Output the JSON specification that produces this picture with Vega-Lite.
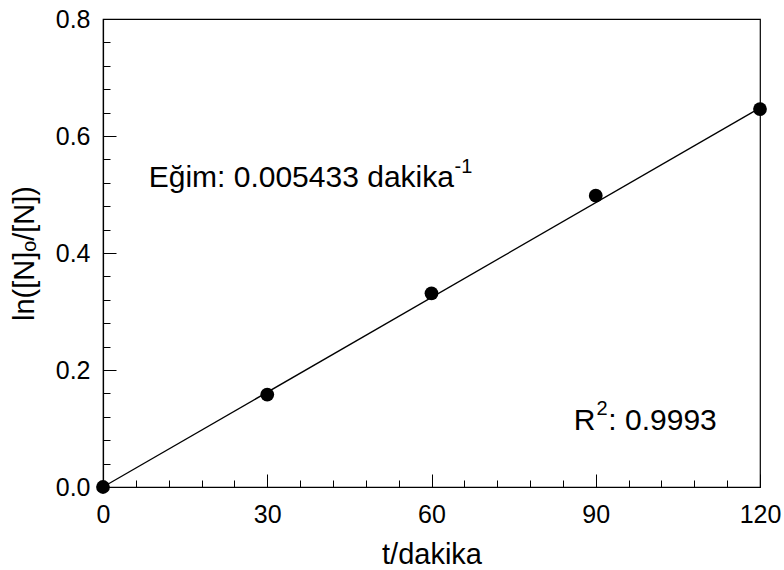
{
  "$schema": "https://vega.github.io/schema/vega-lite/v6.json",
  "width": 657,
  "height": 468,
  "autosize": {"type": "none"},
  "padding": {"left": 103, "top": 19, "right": 24, "bottom": 83},
  "background": "white",
  "config": {
    "font": "Liberation Sans",
    "view": {"stroke": "black", "strokeWidth": 1.2},
    "axis": {
      "grid": false,
      "domainColor": "black",
      "domainWidth": 1.2,
      "tickColor": "black",
      "tickWidth": 1,
      "labelColor": "black",
      "titleColor": "black",
      "labelFont": "Liberation Sans",
      "titleFont": "Liberation Sans",
      "labelFontSize": 25,
      "titleFontSize": 29,
      "titleFontWeight": "normal",
      "labelOverlap": false,
      "labelFlush": false,
      "labelBound": false
    }
  },
  "encoding": {
    "x": {
      "field": "t",
      "type": "quantitative",
      "scale": {"domain": [0, 120], "nice": false, "zero": true},
      "axis": {
        "title": "t/dakika",
        "values": [0, 6, 12, 18, 24, 30, 36, 42, 48, 54, 60, 66, 72, 78, 84, 90, 96, 102, 108, 114, 120],
        "labelExpr": "datum.value % 30 === 0 ? datum.label : ''",
        "tickSize": {"condition": {"test": "datum.value % 30 === 0", "value": -13}, "value": -7},
        "labelPadding": 28,
        "titleBaseline": "alphabetic",
        "titleY": 76
      }
    },
    "y": {
      "field": "v",
      "type": "quantitative",
      "scale": {"domain": [0, 0.8], "nice": false, "zero": true},
      "axis": {
        "title": "ln([N]ₒ/[N])",
        "format": ".1f",
        "values": [0, 0.04, 0.08, 0.12, 0.16, 0.2, 0.24, 0.28, 0.32, 0.36, 0.4, 0.44, 0.48, 0.52, 0.56, 0.6, 0.64, 0.68, 0.72, 0.76, 0.8],
        "labelExpr": "abs(datum.value*5 - round(datum.value*5)) < 0.000001 ? datum.label : ''",
        "tickSize": {"condition": {"test": "abs(datum.value*5 - round(datum.value*5)) < 0.000001", "value": -13}, "value": -7},
        "labelPadding": 26,
        "titleBaseline": "middle",
        "titleX": -79
      }
    }
  },
  "layer": [
    {
      "data": {"values": [{"t": 0, "v": 0.0}, {"t": 120, "v": 0.648}]},
      "mark": {"type": "line", "color": "black", "strokeWidth": 1.3}
    },
    {
      "data": {"values": [
        {"t": 0, "v": 0.0},
        {"t": 30, "v": 0.158},
        {"t": 60, "v": 0.331},
        {"t": 90, "v": 0.498},
        {"t": 120, "v": 0.646}
      ]},
      "mark": {"type": "circle", "color": "black", "opacity": 1, "size": 190}
    },
    {
      "data": {"values": [
        {"t": 8.35, "v": 0.512, "label": "Eğim: 0.005433 dakika"},
        {"t": 85.97, "v": 0.098, "label": "R"},
        {"t": 92.3, "v": 0.098, "label": ": 0.9993"}
      ]},
      "mark": {"type": "text", "align": "left", "baseline": "alphabetic", "fontSize": 30, "font": "Liberation Sans", "color": "black"},
      "encoding": {"text": {"field": "label"}}
    },
    {
      "data": {"values": [
        {"t": 64.2, "v": 0.536, "label": "-1"},
        {"t": 90.15, "v": 0.1226, "label": "2"}
      ]},
      "mark": {"type": "text", "align": "left", "baseline": "alphabetic", "fontSize": 20, "font": "Liberation Sans", "color": "black"},
      "encoding": {"text": {"field": "label"}}
    }
  ]
}
